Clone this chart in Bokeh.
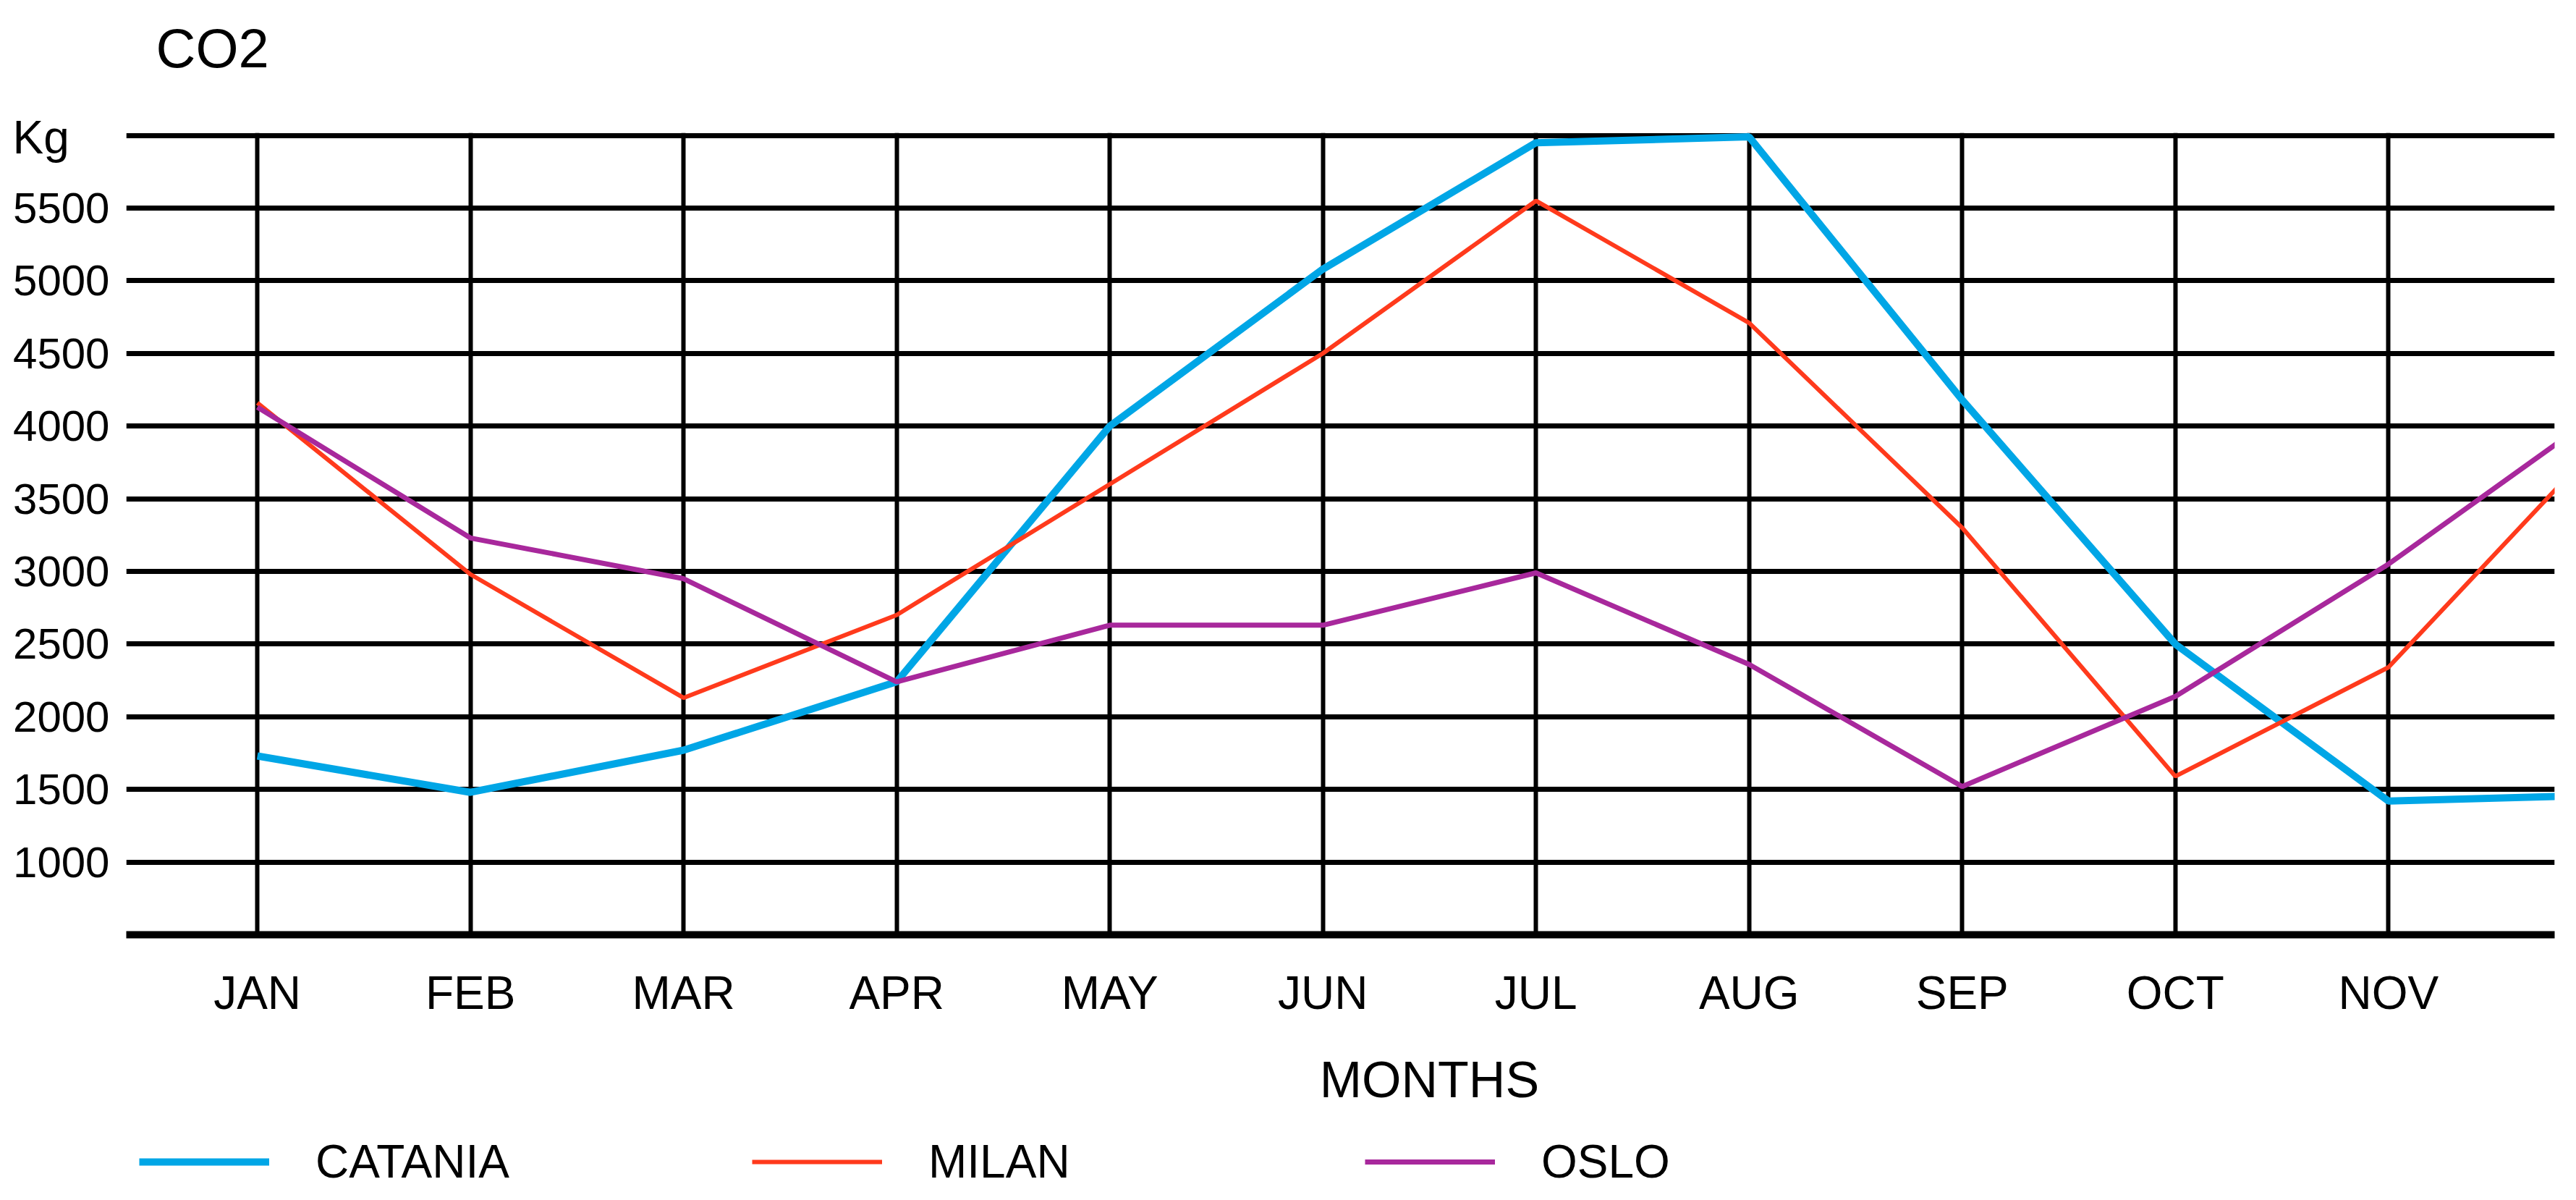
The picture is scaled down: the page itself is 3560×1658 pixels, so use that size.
from bokeh.plotting import figure
from bokeh.models import Range1d, FixedTicker, Legend, LegendItem, Title, Label
from bokeh.layouts import column
from bokeh.embed import file_html
from bokeh.resources import INLINE

months = ["JAN", "FEB", "MAR", "APR", "MAY", "JUN", "JUL", "AUG", "SEP", "OCT", "NOV", "DEC"]
catania = [1730, 1480, 1770, 2240, 4000, 5080, 5950, 5990, 4180, 2500, 1420, 1460]
milan = [4160, 2980, 2130, 2700, 3600, 4500, 5550, 4710, 3300, 1590, 2340, 3900]
oslo = [4130, 3230, 2950, 2240, 2630, 2630, 2990, 2360, 1520, 2140, 3050, 4100]
series_names = ["CATANIA", "MILAN", "OSLO"]
series_colors = ["#00A6E6", "#FF3A1C", "#A8289C"]
y_ticks = [500, 1000, 1500, 2000, 2500, 3000, 3500, 4000, 4500, 5000, 5500, 6000]

FONT = "Liberation Sans"
x = list(range(len(months)))
xr = Range1d(-0.615, 10.78)
widths = [10, 6, 7]
series = [catania, milan, oslo]

p = figure(frame_width=3356, frame_height=1108, output_backend="svg", toolbar_location=None,
           x_range=xr, y_range=Range1d(500, 6018),
           min_border_left=174, min_border_right=14, min_border_top=183, min_border_bottom=125)
p.outline_line_color = None
p.background_fill_color = "white"

p.title.text = "CO2"
p.title.text_font = FONT
p.title.text_font_style = "normal"
p.title.text_font_size = "76px"
p.title.text_color = "black"
p.title.align = "left"
p.title.offset = 41
p.title.vertical_align = "bottom"
p.title.standoff = 30

# "Kg" unit text sitting at the top gridline, left of the frame (inner panel)
kg = Title(text="Kg", text_font=FONT, text_font_style="normal", text_font_size="64px",
           text_color="black", align="left", offset=-157, vertical_align="bottom",
           standoff=-85)
p.add_layout(kg, "above")
# blank spacer between the unit text and the chart title
spacer = Title(text=" ", text_font=FONT, text_font_size="1px", standoff=57)
p.add_layout(spacer, "above")

# axes
p.xaxis.ticker = FixedTicker(ticks=x)
p.xaxis.major_label_overrides = {i: m for i, m in enumerate(months)}
p.xaxis.major_tick_line_color = None
p.xaxis.major_tick_out = 0
p.xaxis.major_tick_in = 0
p.xaxis.minor_tick_line_color = None
p.xaxis.axis_line_color = "black"
p.xaxis.axis_line_width = 10
p.xaxis.major_label_text_font = FONT
p.xaxis.major_label_text_font_size = "64px"
p.xaxis.major_label_text_color = "black"
p.xaxis.major_label_standoff = 44

p.yaxis.ticker = FixedTicker(ticks=y_ticks)
p.yaxis.major_label_overrides = {500: "", 6000: ""}
p.yaxis.major_tick_line_color = None
p.yaxis.major_tick_out = 0
p.yaxis.major_tick_in = 0
p.yaxis.minor_tick_line_color = None
p.yaxis.axis_line_color = None
p.yaxis.major_label_text_font = FONT
p.yaxis.major_label_text_font_size = "60px"
p.yaxis.major_label_text_color = "black"
p.yaxis.major_label_standoff = 23

p.xgrid.ticker = FixedTicker(ticks=x)
p.ygrid.ticker = FixedTicker(ticks=y_ticks)
p.xgrid.grid_line_width = 6
p.ygrid.grid_line_width = 7
for g in (p.xgrid, p.ygrid):
    g.grid_line_color = "black"
    g.grid_line_alpha = 1

for vals, col, w in zip(series, series_colors, widths):
    p.line(x, vals, line_color=col, line_width=w)

# lower strip: axis title and legend
p2 = figure(width=3544, height=226, output_backend="svg", toolbar_location=None,
            x_range=xr, y_range=Range1d(0, 1), x_axis_type=None, y_axis_type=None,
            min_border_left=174, min_border_right=14, min_border_top=0, min_border_bottom=0)
p2.outline_line_color = None
p2.background_fill_color = "white"
p2.xgrid.visible = False
p2.ygrid.visible = False

p2.add_layout(Label(x=(len(months) - 1) / 2, y=151, x_units="data", y_units="screen",
                    text="MONTHS", text_font=FONT, text_font_size="70px",
                    text_align="center", text_baseline="middle", text_color="black"))

# legend key renderers (their values lie outside this strip's y range, only the key shows)
items = []
for name, vals, col, w in zip(series_names, series, series_colors, widths):
    r = p2.line(x, vals, line_color=col, line_width=w)
    items.append(LegendItem(label=name, renderers=[r]))

legend = Legend(items=items, location=(18, 0), orientation="horizontal", padding=0, margin=0,
                glyph_width=180, glyph_height=40, label_standoff=64, label_width=277,
                spacing=326, label_text_font=FONT, label_text_font_size="64px",
                label_text_color="black", border_line_color=None, background_fill_alpha=0)
p2.add_layout(legend, "center")

layout = column(p, p2, spacing=0)
open("out.html", "w").write(file_html(layout, INLINE))
